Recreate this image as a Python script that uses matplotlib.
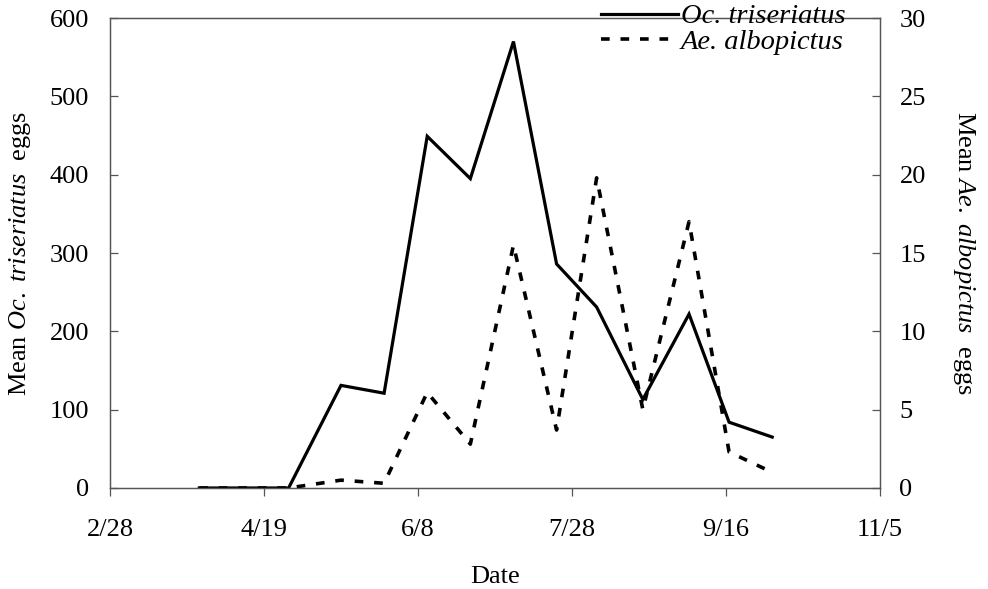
import datetime as dt
import matplotlib
matplotlib.use("Agg")
import matplotlib.pyplot as plt
from matplotlib.lines import Line2D

plt.rcParams['font.family'] = ['Liberation Serif', 'DejaVu Serif']
plt.rcParams['mathtext.fontset'] = 'custom'
plt.rcParams['mathtext.rm'] = 'Liberation Serif'
plt.rcParams['mathtext.it'] = 'Liberation Serif:italic'

# sampling dates (month/day) and mean egg counts per trap
dates = ['3/29', '4/27', '5/14', '5/28', '6/11', '6/25', '7/9', '7/23',
         '8/5', '8/20', '9/4', '9/17', '10/1']
oc_eggs = [0, 0, 131, 121, 449, 395, 570, 286, 231, 113, 222, 84, 65]
ae_eggs = [0, 0, 0.5, 0.3, 6.1, 2.8, 15.5, 3.7, 19.8, 5.0, 17.0, 2.3, 1.0]
xtick_labels = ['2/28', '4/19', '6/8', '7/28', '9/16', '11/5']

year = 2005
def to_day(s):
    m, d = map(int, s.split('/'))
    return dt.date(year, m, d)

x = [to_day(s) for s in dates]
xt = [to_day(s) for s in xtick_labels]

fig = plt.figure(figsize=(9.88, 5.89), dpi=100)
ax = fig.add_axes([0.1113, 0.1715, 0.7794, 0.7979])
ax2 = ax.twinx()

ax.plot(x, oc_eggs, color='black', lw=2.3, solid_joinstyle='miter')
l2, = ax2.plot(x, ae_eggs, color='black', lw=2.6, dash_capstyle='butt')
l2.set_dashes((2.4, 3.0))

ax.set_xlim(xt[0], xt[-1])
ax.set_xticks(xt)
ax.set_xticklabels(xtick_labels)
ax.set_ylim(0, 600)
ax.set_yticks(range(0, 601, 100))
ax2.set_ylim(0, 30)
ax2.set_yticks(range(0, 31, 5))

for a in (ax, ax2):
    for sp in a.spines.values():
        sp.set_color('#555555')
        sp.set_linewidth(0.9)
ax.tick_params(axis='x', direction='out', length=6, width=0.9, color='#555555',
               labelsize=19, pad=16)
ax.tick_params(axis='y', direction='in', length=6, width=0.9, color='#555555',
               labelsize=19, pad=15)
ax2.tick_params(axis='y', direction='in', length=6, width=0.9, color='#555555',
                labelsize=19, pad=14)

ax.set_xlabel('Date', fontsize=19, labelpad=18)
ax.set_ylabel(r'Mean $\mathit{Oc.\ triseriatus}$  eggs', fontsize=19, labelpad=12)
ax2.set_ylabel(r'Mean $\mathit{Ae.\ albopictus}$  eggs', fontsize=19,
               rotation=270, labelpad=37)

h1 = Line2D([], [], color='black', lw=2.3)
h2 = Line2D([], [], color='black', lw=2.6, dash_capstyle='butt')
h2.set_dashes((2.4, 3.0))
leg = ax2.legend([h1, h2], ['Oc. triseriatus', 'Ae. albopictus'],
                 loc='upper right', bbox_to_anchor=(0.97, 1.055), frameon=False,
                 prop={'family': 'Liberation Serif', 'style': 'italic', 'size': 20.5},
                 handlelength=2.7, handletextpad=0.1, labelspacing=0.0,
                 borderaxespad=0)

fig.savefig('out.png', dpi=100)
